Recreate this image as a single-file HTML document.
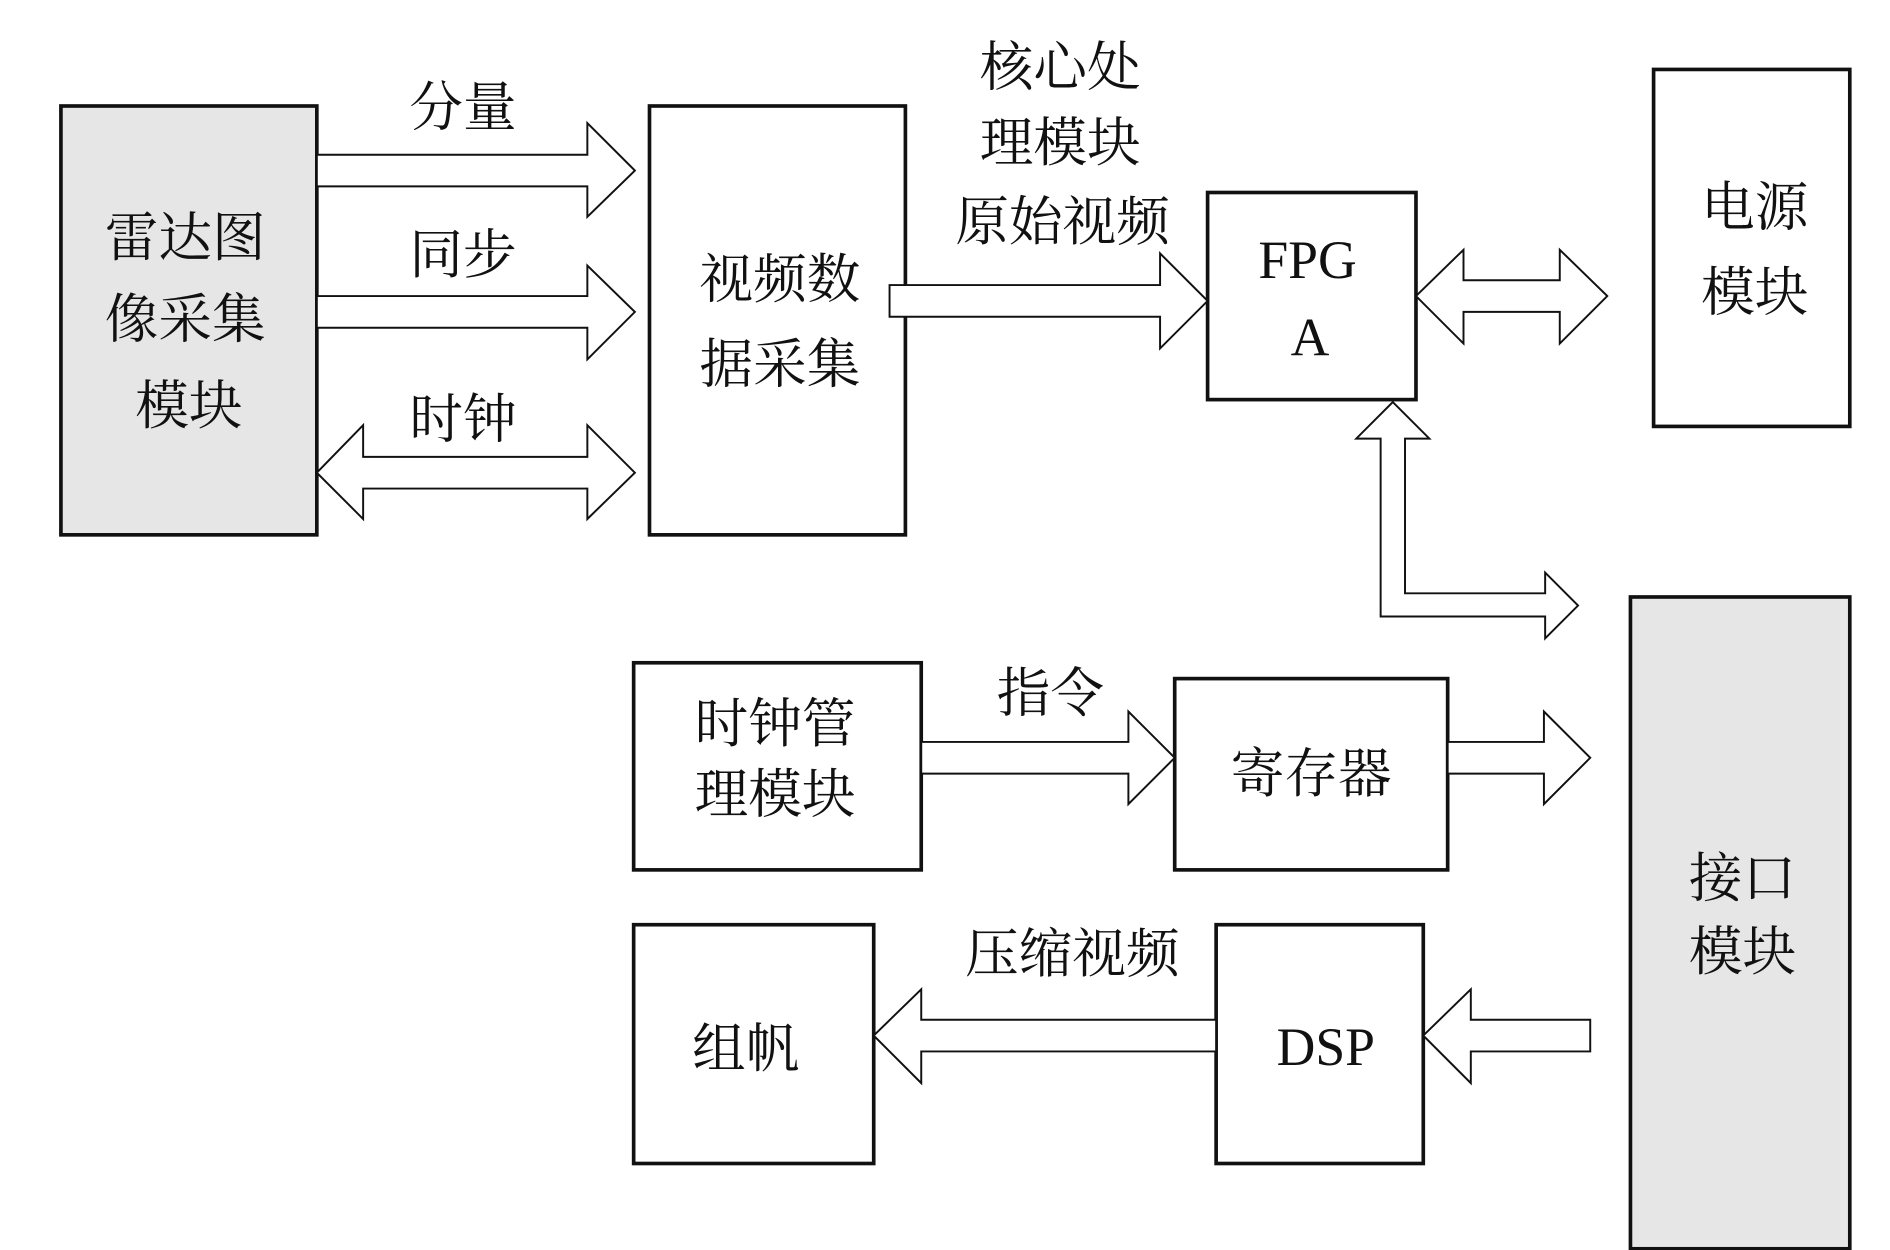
<!DOCTYPE html>
<html><head><meta charset="utf-8"><style>
html,body{margin:0;padding:0;background:#fff;}
svg{display:block;}
text{font-family:"Liberation Serif","Noto Serif CJK SC","Noto Sans CJK SC",serif;font-size:44px;fill:#111;}
</style></head><body>
<svg width="1890" height="1250" viewBox="0 0 1551 1026" preserveAspectRatio="none" xmlns="http://www.w3.org/2000/svg">
<g stroke="#111" stroke-width="3" fill="#fff">
<rect x="50" y="87" width="210" height="352" fill="#e6e6e6"/>
<rect x="533" y="87" width="210" height="352"/>
<rect x="991" y="158" width="171" height="170"/>
<rect x="1357" y="57" width="161" height="293"/>
<rect x="1338" y="490" width="180" height="535" fill="#e6e6e6"/>
<rect x="520" y="544" width="236" height="170"/>
<rect x="964" y="557" width="224" height="157"/>
<rect x="520" y="759" width="197" height="196"/>
<rect x="998" y="759" width="170" height="196"/>
</g>
<g stroke="#111" stroke-width="1.6" fill="#fff">
<polygon points="260,127 482,127 482,101 521,140 482,178 482,153 260,153"/>
<polygon points="260,243 482,243 482,218 521,256 482,295 482,269 260,269"/>
<polygon points="260,388 298,349 298,375 482,375 482,349 521,388 482,426 482,401 298,401 298,426"/>
<polygon points="730,234 952,234 952,208 991,247 952,286 952,260 730,260"/>
<polygon points="1162,243 1201,205 1201,230 1280,230 1280,205 1319,243 1280,282 1280,256 1201,256 1201,282"/>
<polygon points="1143,330 1173,360 1153,360 1153,487 1268,487 1268,470 1295,497 1268,524 1268,506 1133,506 1133,360 1113,360"/>
<polygon points="756,609 926,609 926,584 964,622 926,660 926,635 756,635"/>
<polygon points="1188,609 1267,609 1267,584 1305,622 1267,660 1267,635 1188,635"/>
<polygon points="717,850 756,812 756,837 998,837 998,863 756,863 756,889"/>
<polygon points="1168,850 1207,812 1207,837 1305,837 1305,863 1207,863 1207,889"/>
</g>
<g text-anchor="middle">
<text x="380" y="103">分量</text>
<text x="380" y="224">同步</text>
<text x="380" y="359">时钟</text>
<text x="152" y="210">雷达图</text>
<text x="152" y="277">像采集</text>
<text x="155" y="348">模块</text>
<text x="640" y="244">视频数</text>
<text x="640" y="314">据采集</text>
<text x="870" y="70">核心处</text>
<text x="870" y="132">理模块</text>
<text x="872" y="197">原始视频</text>
<text x="1073" y="228">FPG</text>
<text x="1075" y="292">A</text>
<text x="1440" y="185">电源</text>
<text x="1440" y="255">模块</text>
<text x="636" y="609">时钟管</text>
<text x="636" y="667">理模块</text>
<text x="862" y="584">指令</text>
<text x="1076" y="650">寄存器</text>
<text x="880" y="798">压缩视频</text>
<text x="612" y="876">组帆</text>
<text x="1088" y="874">DSP</text>
<text x="1430" y="736">接口</text>
<text x="1430" y="796">模块</text>
</g>
</svg>
</body></html>
